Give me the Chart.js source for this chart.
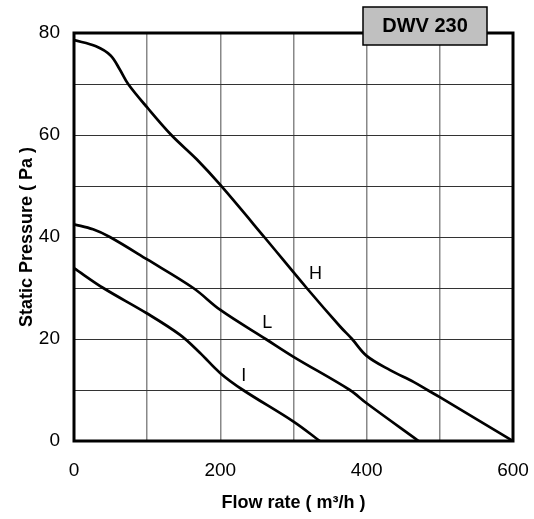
<!DOCTYPE html>
<html>
<head>
<meta charset="utf-8">
<script src="https://cdn.jsdelivr.net/npm/chart.js@4/dist/chart.umd.min.js"></script>
<style>
  body { margin: 0; background: #fff; }
  #wrap { width: 534px; height: 519px; }
</style>
</head>
<body>
<div id="wrap"><canvas id="myChart" width="534" height="519"></canvas></div>
<script>
// curve H
const flowH = [0, 30, 50, 62, 74, 100, 133, 168, 200, 260, 318, 364, 380, 400, 432, 464, 483, 500, 600];
const pressH = [78.6, 77.4, 75.6, 73, 70, 65.4, 60, 55.2, 50.2, 40, 30, 22.4, 20, 16.7, 13.9, 11.6, 10, 8.6, 0];
// curve L
const flowL = [0, 26, 49, 100, 163, 200, 263, 300, 377, 400, 471];
const pressL = [42.5, 41.5, 40, 35.6, 30, 25.7, 19.9, 16.5, 10, 7.4, 0];
// curve I
const flowI = [0, 40, 100, 145, 172, 200, 231, 300, 336];
const pressI = [33.9, 30, 25, 20.8, 17.3, 13.3, 10, 3.8, 0];

// letters next to the curves
const curveNames = ['H', 'L', 'I'];
const curveNameFlow = [330, 264, 232];
const curveNamePress = [32.7, 23.2, 12.8];

const chartTitle = 'DWV 230';
const font = '"Liberation Sans", Arial, sans-serif';

function toPoints(xs, ys) {
    return xs.map((x, i) => ({x: x, y: ys[i]}));
}

function curve(xs, ys) {
    return {
        data: toPoints(xs, ys),
        borderColor: '#000',
        borderWidth: 2.7,
        pointRadius: 0,
        fill: false,
        tension: 0.35
    };
}

const frame = {
    id: 'frame',
    afterDatasetsDraw(chart) {
        const {ctx, chartArea: a, scales} = chart;
        ctx.save();
        ctx.font = '18px ' + font;
        ctx.fillStyle = '#000';
        ctx.textAlign = 'center';
        ctx.textBaseline = 'middle';
        curveNames.forEach((n, i) => {
            ctx.fillText(n, scales.x.getPixelForValue(curveNameFlow[i]), scales.y.getPixelForValue(curveNamePress[i]));
        });
        ctx.lineWidth = 3;
        ctx.strokeStyle = '#000';
        ctx.strokeRect(a.left, a.top, a.right - a.left, a.bottom - a.top);
        ctx.restore();
    },
    afterDraw(chart) {
        const {ctx, chartArea: a} = chart;
        const w = 124, h = 38;
        const x = a.right - 26 - w, y = a.top - 26;
        ctx.save();
        ctx.fillStyle = '#c0c0c0';
        ctx.fillRect(x, y, w, h);
        ctx.lineWidth = 1.5;
        ctx.strokeStyle = '#000';
        ctx.strokeRect(x, y, w, h);
        ctx.font = 'bold 20px ' + font;
        ctx.fillStyle = '#000';
        ctx.textAlign = 'center';
        ctx.textBaseline = 'middle';
        ctx.fillText(chartTitle, x + w / 2, y + h / 2);
        ctx.restore();
    }
};

function buildChart() {
    const config = {
        type: 'line',
        data: {
            datasets: [
                curve(flowH, pressH),
                curve(flowL, pressL),
                curve(flowI, pressI)
            ]
        },
        options: {
            responsive: false,
            animation: false,
            layout: {
                padding: {top: 33, right: 21, left: 0, bottom: 0}
            },
            plugins: {
                legend: {display: false},
                tooltip: {enabled: false}
            },
            scales: {
                x: {
                    type: 'linear',
                    min: 0,
                    max: 600,
                    afterFit: s => {
                        s.height = 78;
                        s.paddingLeft = 0;
                        s.paddingRight = 0;
                    },
                    border: {display: false},
                    grid: {color: '#888', lineWidth: 1.5, drawTicks: false},
                    ticks: {
                        stepSize: 100,
                        padding: 18,
                        color: '#000',
                        maxRotation: 0,
                        autoSkip: false,
                        font: {family: font, size: 19},
                        callback: v => (v % 200 === 0 ? v : '')
                    },
                    title: {
                        display: true,
                        text: 'Flow rate ( m³/h )',
                        color: '#000',
                        font: {family: font, size: 18, weight: 'bold'},
                        padding: {top: 0, bottom: 5}
                    }
                },
                y: {
                    type: 'linear',
                    min: 0,
                    max: 80,
                    afterFit: s => { s.width = 74; },
                    border: {display: false},
                    grid: {color: '#333', lineWidth: 1, drawTicks: false},
                    ticks: {
                        stepSize: 10,
                        padding: 14,
                        color: '#000',
                        autoSkip: false,
                        font: {family: font, size: 19},
                        callback: v => (v % 20 === 0 ? v : '')
                    },
                    title: {
                        display: true,
                        text: 'Static Pressure ( Pa )',
                        color: '#000',
                        font: {family: font, size: 18, weight: 'bold'},
                        padding: {top: 16, bottom: 0}
                    }
                }
            }
        },
        plugins: [frame]
    };

    new Chart(document.getElementById('myChart').getContext('2d'), config);
}

buildChart();
</script>
</body>
</html>
